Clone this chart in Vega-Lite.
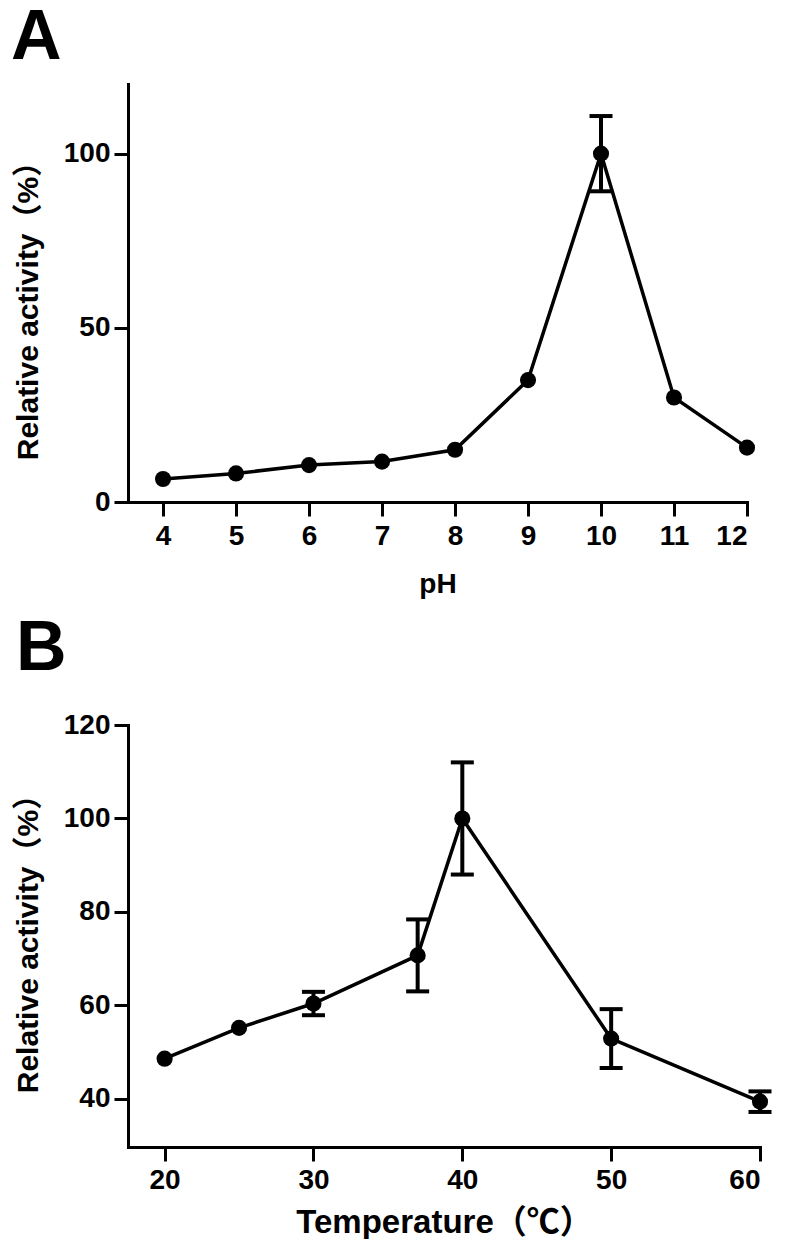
{
  "$schema": "https://vega.github.io/schema/vega-lite/v6.json",
  "background": "white",
  "padding": {"left": 11, "top": 3, "right": 0, "bottom": 0},
  "autosize": {"type": "pad"},
  "config": {
    "view": {"stroke": null},
    "axis": {
      "domainColor": "black", "domainWidth": 3, "domainCap": "square",
      "tickColor": "black", "tickWidth": 3, "tickSize": 14,
      "grid": false,
      "labelFont": "'Liberation Sans', Arial",
      "labelFontSize": 28, "labelFontWeight": "bold", "labelColor": "black",
      "titleFont": "'Liberation Sans', 'Noto Sans CJK SC', Arial", "titleFontWeight": "bold", "titleColor": "black"
    }
  },
  "datasets": {
    "ph": [
      {"pH": 4, "activity": 6.6, "sd": 0},
      {"pH": 5, "activity": 8.2, "sd": 0},
      {"pH": 6, "activity": 10.6, "sd": 0},
      {"pH": 7, "activity": 11.6, "sd": 0},
      {"pH": 8, "activity": 15.0, "sd": 0},
      {"pH": 9, "activity": 35.0, "sd": 0},
      {"pH": 10, "activity": 100, "sd": 10.8},
      {"pH": 11, "activity": 30.0, "sd": 0},
      {"pH": 12, "activity": 15.6, "sd": 0}
    ],
    "temp": [
      {"temperature": 20, "activity": 48.6, "sd": 0},
      {"temperature": 25, "activity": 55.2, "sd": 0},
      {"temperature": 30, "activity": 60.4, "sd": 2.5},
      {"temperature": 37, "activity": 70.7, "sd": 7.7},
      {"temperature": 40, "activity": 100, "sd": 12},
      {"temperature": 50, "activity": 52.9, "sd": 6.3},
      {"temperature": 60, "activity": 39.4, "sd": 2.2}
    ]
  },
  "columns": 1,
  "align": "none",
  "spacing": 16,
  "concat": [
    {
      "title": {"text": "A", "anchor": "start", "frame": "group", "font": "'Liberation Sans', Arial", "fontSize": 70, "fontWeight": "bold", "color": "black", "baseline": "alphabetic", "offset": -45, "dx": -117},
      "width": 619,
      "height": 418,
      "data": {"name": "ph"},
      "encoding": {
        "x": {"field": "pH", "type": "quantitative",
          "scale": {"domain": [3.52, 12], "nice": false, "zero": false},
          "axis": {"values": [4, 5, 6, 7, 8, 9, 10, 11, 12], "title": "pH", "titleFontSize": 28, "labelPadding": 6, "titlePadding": 20}},
        "y": {"field": "activity", "type": "quantitative",
          "scale": {"domain": [0, 120], "nice": false},
          "axis": {"values": [0, 50, 100], "title": "Relative activity（%）", "titleFontSize": 30, "labelPadding": 4, "titlePadding": 20, "titleY": 219}}
      },
      "layer": [
        {"mark": {"type": "line", "color": "black", "strokeWidth": 3.5}},
        {"transform": [{"filter": "datum.sd > 0"}],
         "mark": {"type": "errorbar", "ticks": {"color": "black", "opacity": 1}, "rule": {"color": "black", "opacity": 1}, "color": "black", "opacity": 1, "thickness": 4, "size": 23},
         "encoding": {"yError": {"field": "sd"}}},
        {"mark": {"type": "circle", "color": "black", "size": 260, "opacity": 1}}
      ]
    },
    {
      "title": {"text": "B", "anchor": "start", "frame": "group", "font": "'Liberation Sans', Arial", "fontSize": 70, "fontWeight": "bold", "color": "black", "baseline": "alphabetic", "offset": -29, "dx": -112},
      "width": 632,
      "height": 422,
      "data": {"name": "temp"},
      "encoding": {
        "x": {"field": "temperature", "type": "quantitative",
          "scale": {"domain": [17.54, 60], "nice": false, "zero": false},
          "axis": {"values": [20, 30, 40, 50, 60], "title": "Temperature（℃）", "titleFontSize": 33, "labelPadding": 5, "titlePadding": 12}},
        "y": {"field": "activity", "type": "quantitative",
          "scale": {"domain": [29.7, 120], "nice": false, "zero": false},
          "axis": {"values": [40, 60, 80, 100, 120], "title": "Relative activity（%）", "titleFontSize": 30, "labelPadding": 4, "titlePadding": 20}}
      },
      "layer": [
        {"mark": {"type": "line", "color": "black", "strokeWidth": 3.5}},
        {"transform": [{"filter": "datum.sd > 0"}],
         "mark": {"type": "errorbar", "ticks": {"color": "black", "opacity": 1}, "rule": {"color": "black", "opacity": 1}, "color": "black", "opacity": 1, "thickness": 4, "size": 23},
         "encoding": {"yError": {"field": "sd"}}},
        {"mark": {"type": "circle", "color": "black", "size": 260, "opacity": 1}}
      ]
    }
  ]
}
